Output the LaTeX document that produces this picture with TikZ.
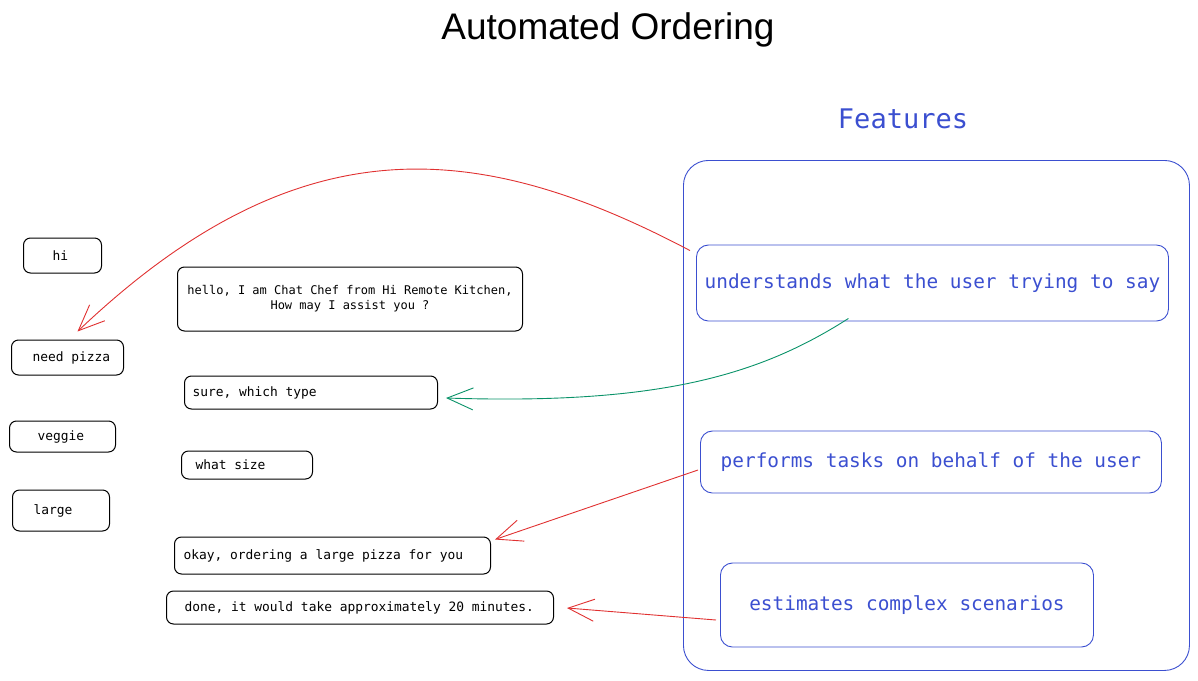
\documentclass[tikz,border=0pt]{standalone}
\usepackage{fontspec}
\setmonofont{DejaVu Sans Mono}
\newfontfamily\titlefont{Liberation Sans}
\usepackage{tikz}
\usetikzlibrary{arrows.meta,calc}
\definecolor{featblue}{RGB}{59,79,208}
\definecolor{linkred}{RGB}{224,49,49}
\definecolor{linkgreen}{RGB}{9,146,104}
\newcommand{\chattext}[2]{\makebox[#1][l]{#2}}
\tikzset{%
    bubble/.style={%
        draw, line width=1pt, rounded corners=7pt, anchor=west,
        font=\ttfamily\fontsize{12.9}{15}\selectfont, inner xsep=#1, inner ysep=0pt},
    bubble/.default=8pt,
    feature/.style={%
        draw=featblue, text=featblue, line width=0.9pt, rounded corners=12pt, anchor=west,
        align=center, font=\ttfamily\fontsize{19.4}{24}\selectfont, inner xsep=2pt},
    link/.style={line width=0.9pt, -{Straight Barb[length=26pt,width=22pt]}}
}
\begin{document}
\begin{tikzpicture}[x=1pt,y=-1pt]
	\useasboundingbox (0,0) rectangle (1198,680);
	\node[font=\titlefont\fontsize{37}{44}\selectfont] (title) at (608,30) {Automated Ordering};
	\node[bubble=29pt, minimum height=35pt] (hi) at (23,255.5) {\chattext{20pt}{hi}};
	\node[bubble=4pt, minimum height=64pt, minimum width=345pt, align=center, font=\ttfamily\fontsize{12}{15}\selectfont] (hello) at (177,299) {hello, I am Chat Chef from Hi Remote Kitchen,\\ How may I assist you ?};
	\node[bubble=21pt, minimum height=35pt] (need) at (11,357.5) {\chattext{70pt}{need pizza}};
	\node[bubble=8pt, minimum height=33pt] (sure) at (184,392.5) {\chattext{237pt}{sure, which type}};
	\node[bubble=28pt, minimum height=31pt] (veggie) at (9,436.5) {\chattext{50pt}{veggie}};
	\node[bubble=14pt, minimum height=28pt] (size) at (181,465) {\chattext{103pt}{what size}};
	\node[bubble=21pt, minimum height=41pt] (large) at (12,510.5) {\chattext{55pt}{large}};
	\node[bubble=9pt, minimum height=37pt] (okay) at (174,555.5) {\chattext{298pt}{okay, ordering a large pizza for you}};
	\node[bubble=18pt, minimum height=33pt] (done) at (166,607.5) {\chattext{351pt}{done, it would take approximately 20 minutes.}};
	\node[text=featblue, font=\ttfamily\fontsize{27}{32}\selectfont] (featurestitle) at (903,119) {Features};
	\node[draw=featblue, line width=0.9pt, rounded corners=25pt, minimum width=506pt, minimum height=510pt, anchor=north west] (panel) at (683,160) {};
	\node[feature, minimum width=472pt, minimum height=76pt] (understands) at (696,283) {understands what the user trying to say};
	\node[feature, minimum width=461pt, minimum height=62pt] (performs) at (700,462) {performs tasks on behalf of the user};
	\node[feature, minimum width=373pt, minimum height=84pt] (estimates) at (720,605) {estimates complex scenarios};
	\draw[link, linkred] ($(understands.north west)+(-6,6)$) .. controls (480,140) and (300,120) .. ($(need.north)+(10,-8)$);
	\draw[link, linkgreen] ($(understands.south)+(-84,-3)$) .. controls (760,375) and (660,405) .. ($(sure.east)+(8,5.5)$);
	\draw[link, linkred] ($(performs.west)+(-2,8)$) -- ($(okay.north east)+(4,3)$);
	\draw[link, linkred] ($(estimates.west)+(-4,15)$) -- ($(done.east)+(13,0.5)$);
\end{tikzpicture}
\end{document}
